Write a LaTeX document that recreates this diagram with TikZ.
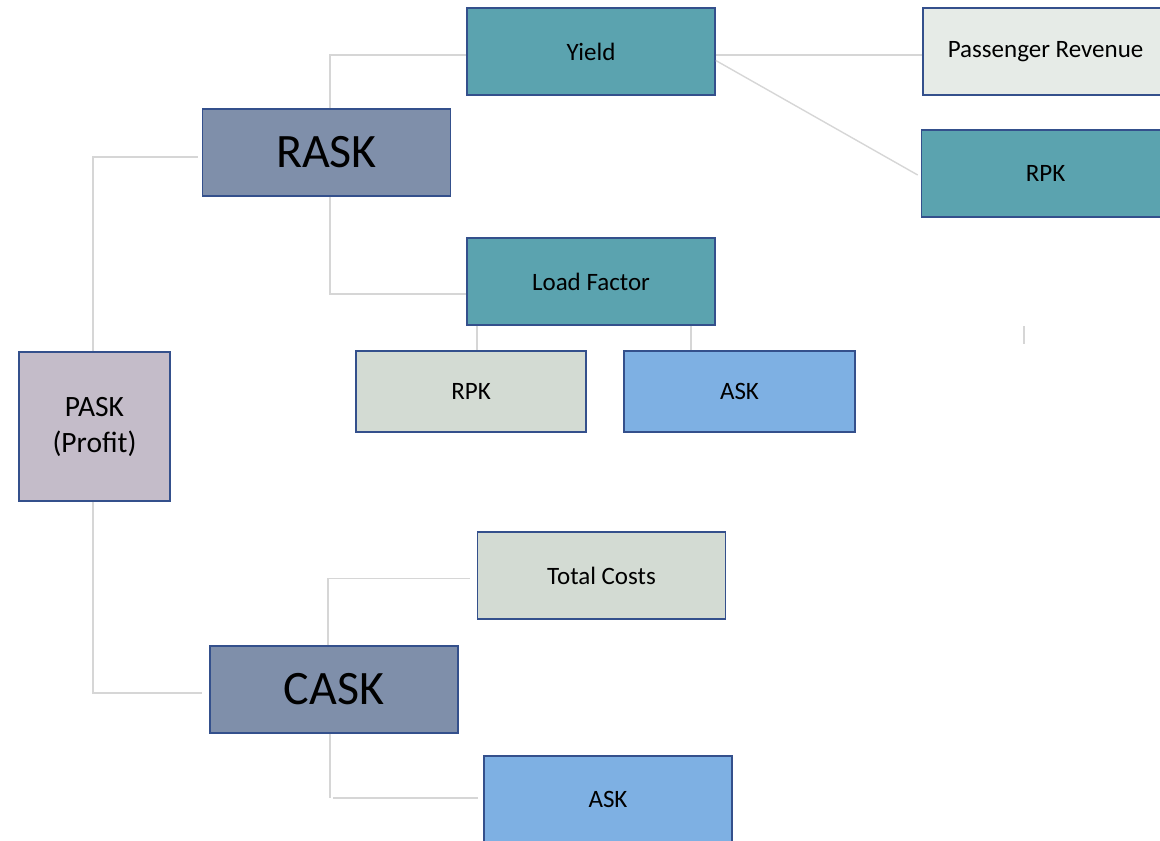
\documentclass[tikz,border=0pt]{standalone}
\usepackage{fontspec}
\setmainfont{Carlito}
\usepackage{tikz}
\usetikzlibrary{arrows,shapes,positioning}
\definecolor{tealbox}{HTML}{5BA3AF}
\definecolor{slatebox}{HTML}{7F8FAA}
\definecolor{mauvebox}{HTML}{C4BCC9}
\definecolor{greybox}{HTML}{D3DBD3}
\definecolor{paleblox}{HTML}{E6EBE7}
\definecolor{bluebox}{HTML}{7EB0E3}
\definecolor{rim}{HTML}{34508C}
\definecolor{wire}{HTML}{D6D6D6}
\tikzstyle{box}=[rectangle,draw=rim,line width=1.6pt,inner sep=0pt,align=center,minimum width=248pt,minimum height=87pt,font=\fontsize{25}{30}\selectfont]
\tikzstyle{bigbox}=[box,fill=slatebox,font=\fontsize{48}{56}\selectfont]
\tikzstyle{edge} = [draw=wire,line width=1.4pt,-]
\tikzstyle{trunk} = [draw=wire,line width=2.8pt,-]

\begin{document}
\begin{tikzpicture}[x=1pt,y=-1pt]
\useasboundingbox (0,0) rectangle (1160,841);

% First the metric boxes
\node[box,fill=mauvebox,minimum width=151pt,minimum height=149pt,font=\fontsize{29.5}{36}\selectfont] (pask) at (94.5,426.5) {PASK\\(Profit)};
\node[bigbox] (rask) at (326.5,152.5) {RASK};
\node[bigbox] (cask) at (334,689.5) {CASK};

\foreach \pos / \name / \txt in {{(591,51.5)/yield/Yield},{(591,281.5)/load/Load Factor},{(1045.5,173.5)/rpkb/RPK}}
\node[box,fill=tealbox] (\name) at \pos {\txt};

\node[box,fill=paleblox,minimum width=245pt] (rev) at (1045.5,51.5) {Passenger Revenue};
\node[box,fill=greybox,minimum width=230pt,minimum height=81pt] (rpka) at (471,391.5) {RPK};
\node[box,fill=bluebox,minimum width=231pt,minimum height=81pt] (aska) at (739.5,391.5) {ASK};
\node[box,fill=greybox] (cost) at (601.5,575.5) {Total Costs};
\node[box,fill=bluebox] (askb) at (608,799.5) {ASK};

% Then the connectors
\path[trunk] ([xshift=-1.5pt]pask.north) |- ([xshift=-4pt,yshift=-4.5pt]rask.west);
\path[trunk] ([xshift=-1.5pt]pask.south) |- ([xshift=-7pt,yshift=-3.5pt]cask.west);
\path[edge] ([xshift=3.5pt]rask.north) |- ([yshift=-3.5pt]yield.west);
\path[edge] ([xshift=3.5pt]rask.south) |- ([yshift=-12.5pt]load.west);
\path[edge] ([yshift=-3.5pt]yield.east) -- ([yshift=-3.5pt]rev.west);
\path[edge] ([yshift=-9pt]yield.east) -- ([xshift=-3pt,yshift=-1.5pt]rpkb.west);
\foreach \dest / \dx in {rpka/-114pt,aska/100pt}
\path[edge] ([xshift=\dx]load.south) -- ([xshift=\dx]load.south |- \dest.north);
\path[edge] ([xshift=-6pt]cask.north) |- ([xshift=-7pt,yshift=-3pt]cost.west);
\path[trunk] ([xshift=-4pt]cask.south) -- ([xshift=-4pt,yshift=-64pt]cask.south);
\path[edge] ([xshift=-1pt,yshift=-64pt]cask.south) -- ([xshift=-5pt,yshift=-64pt]cask.south -| askb.west);

% loose tick under the right column
\coordinate (tick) at (1024,326);
\path[edge] (tick) -- ++(0,18);

\end{tikzpicture}
\end{document}
